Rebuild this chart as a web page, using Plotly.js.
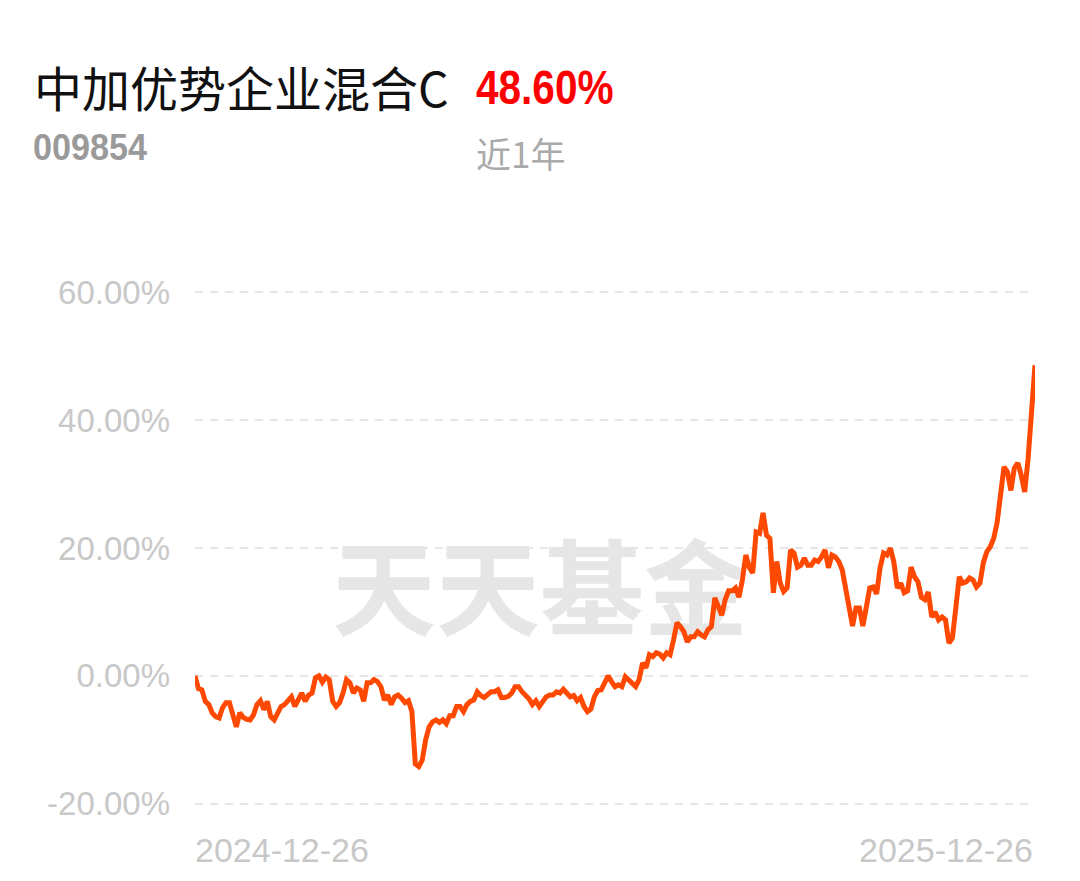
<!DOCTYPE html>
<html><head><meta charset="utf-8">
<script src="https://cdn.plot.ly/plotly-3.0.1.min.js"></script>
<style>html,body{margin:0;padding:0;background:#fff;} #chart{width:1080px;height:881px;}</style>
</head><body><div id="chart"></div>
<script>
const fundName = "中加优势企业混合C";
const fundCode = "009854";
const periodReturn = "48.60%";
const periodLabel = "近1年";
const watermark = "天天基金";
const xTickLabels = ["2024-12-26", "2025-12-26"];
const yTickValues = [-20, 0, 20, 40, 60];
const yTickLabels = ["-20.00%", "0.00%", "20.00%", "40.00%", "60.00%"];
// cumulative return (%) per trading day
const returns = [
  0, -2, -2.2, -4, -4.5, -5.8, -6.4, -6.6, -5, -4.2, -4.2, -6.1, -8, -5.8, -6.5, -6.8, -6.9, -6.1, -4.5, -3.9,
  -5.3, -4, -6.4, -6.9, -6, -4.8, -4.5, -4, -3.3, -4.8, -3.5, -2.7, -4, -3, -2.7, -0.3, 0, -1, -0.2, -0.6,
  -4, -4.8, -4.2, -2.7, -0.6, -1.1, -2.7, -1.9, -2.2, -4, -1.1, -1.1, -0.6, -0.9, -1.7, -3.8, -3, -4.5, -3.3, -3,
  -3.5, -4.2, -3.9, -5.6,
  -13.8, -14.2, -13.2,
  -10, -8, -7.2, -6.9, -7.3, -6.9, -7.5, -6.25, -6.25, -4.8, -4.8, -5.6, -4.5, -4, -3.75, -2.5, -3.1, -3.4, -3.0, -2.5,
  -2.5, -2.2, -3.4, -3.4, -3.2, -2.7, -1.7, -1.7, -2.5, -3.1, -3.6, -4.5, -3.9, -4.8, -3.9, -3.3, -3, -3, -2.5, -2.7,
  -2.1, -2.7, -3.3, -3.1, -3.9, -3.4, -4.8, -5.6, -5.2, -3.3, -2.3, -2.2, -1.1, 0, -0.9, -1.7,
  -1.4, -1.7, -0.15, -0.6, -1.25, -1.7, -0.6, 2, 1.25, 3.3, 3, 3.6, 3.4, 2.8, 3.6, 3.3, 5.6, 8.3, 7.7, 6.9,
  5.3, 6.1, 6.1, 6.9, 6.4, 6.1, 7.2, 7.7, 12.2, 10.8, 9.5, 11.9, 13.3, 13.3, 13.75, 12.3, 15, 18.9, 17, 16.1,
  22.5, 22.3, 25.5, 22, 21.5, 13, 17.9, 14.5, 13.2, 13.75, 19.7, 19.2, 17, 17.3, 18.4, 17.3, 17.3, 18.1, 17.9, 18.6,
  19.7, 16.9, 18.9, 18.6, 17.9, 16.6, 13.4, 10, 7.8,
  10.6, 10.6, 7.8, 10.6, 13.75, 13.9, 12.8, 16.9, 19.2, 18.9, 20, 17.8, 13.75, 14.5, 13, 13.3, 17, 15.5, 14.7, 12.3,
  11.9, 13.1, 9.2, 10, 8.75, 9.2, 8.75, 5.1, 5.9, 10.6, 15.5, 14.5, 14.7, 15.3, 15, 13.9, 14.5, 17.7, 19.4, 20.2,
  21.5, 24, 28.75, 32.7, 31.9, 29, 32.5, 33.3, 31.4, 28.75, 34, 40.8, 48.6
];

const L = 195, R = 1035, T = 285.6, B = 810.4;
const px = x => (x - L) / (R - L);
const py = y => (B - y) / (B - T);
const idx = returns.map((_, i) => i);
const N = returns.length;

const trace = {
  x: idx, y: returns, type: 'scatter', mode: 'lines',
  line: {color: '#ff4800', width: 5, shape: 'linear'},
  hoverinfo: 'skip', cliponaxis: false
};

const grey = '#c8c8c8';
const latin = 'Liberation Sans, Arial, sans-serif';
const layout = {
  width: 1080, height: 881,
  margin: {l: L, r: 1080 - R, t: T, b: 881 - B, pad: 0},
  paper_bgcolor: '#ffffff', plot_bgcolor: '#ffffff',
  showlegend: false,
  xaxis: {range: [0, N - 1], showgrid: false, zeroline: false, showline: false, showticklabels: false, ticks: ''},
  yaxis: {
    range: [-21, 61], tickvals: yTickValues, ticktext: yTickLabels,
    showgrid: true, gridcolor: '#e6e6e6', gridwidth: 2, griddash: '8px,7px',
    zeroline: false, showline: false, ticks: '', ticklabelstandoff: 24,
    tickfont: {family: latin, size: 33, color: grey}
  },
  shapes: [{
    type: 'rect', xref: 'paper', yref: 'paper', layer: 'below',
    x0: px(320), x1: px(760), y0: py(655), y1: py(545),
    line: {width: 0}, fillcolor: 'rgba(0,0,0,0)',
    label: {text: watermark, textposition: 'middle center',
      font: {family: 'Noto Sans CJK SC', size: 104, color: '#e6e6e6', weight: 700}}
  }],
  annotations: [
    {text: fundName, xref: 'paper', yref: 'paper', x: px(32), y: py(85), xanchor: 'left', yanchor: 'middle', showarrow: false,
     font: {family: 'Noto Sans CJK SC', size: 48, color: '#111111'}},
    {text: periodReturn, xref: 'paper', yref: 'paper', x: px(474), y: py(87), xanchor: 'left', yanchor: 'middle', showarrow: false,
     font: {family: latin, size: 48, color: '#ff0000', weight: 700}},
    {text: fundCode, xref: 'paper', yref: 'paper', x: px(31), y: py(147), xanchor: 'left', yanchor: 'middle', showarrow: false,
     font: {family: latin, size: 36, color: '#9a9a9a', weight: 700}},
    {text: periodLabel, xref: 'paper', yref: 'paper', x: px(474), y: py(152), xanchor: 'left', yanchor: 'middle', showarrow: false,
     font: {family: 'Noto Sans CJK SC', size: 35, color: '#aaaaaa'}},
    {text: xTickLabels[0], xref: 'paper', yref: 'paper', x: px(193), y: py(850), xanchor: 'left', yanchor: 'middle', showarrow: false,
     font: {family: latin, size: 34, color: grey}},
    {text: xTickLabels[1], xref: 'paper', yref: 'paper', x: px(1035), y: py(850), xanchor: 'right', yanchor: 'middle', showarrow: false,
     font: {family: latin, size: 34, color: grey}}
  ]
};

// horizontal condensing of the narrow-font texts (style only)
const condense = {1: 0.845, 2: 0.95};
Plotly.newPlot('chart', [trace], layout, {staticPlot: true, displayModeBar: false}).then(() => {
  const texts = document.querySelectorAll('#chart .annotation-text');
  Object.keys(condense).forEach(k => {
    const t = texts[k];
    if (!t) return;
    const bb = t.getBBox();
    const s = condense[k];
    t.setAttribute('transform', `translate(${bb.x},0) scale(${s},1) translate(${-bb.x},0)`);
  });
});
</script>
</body></html>
